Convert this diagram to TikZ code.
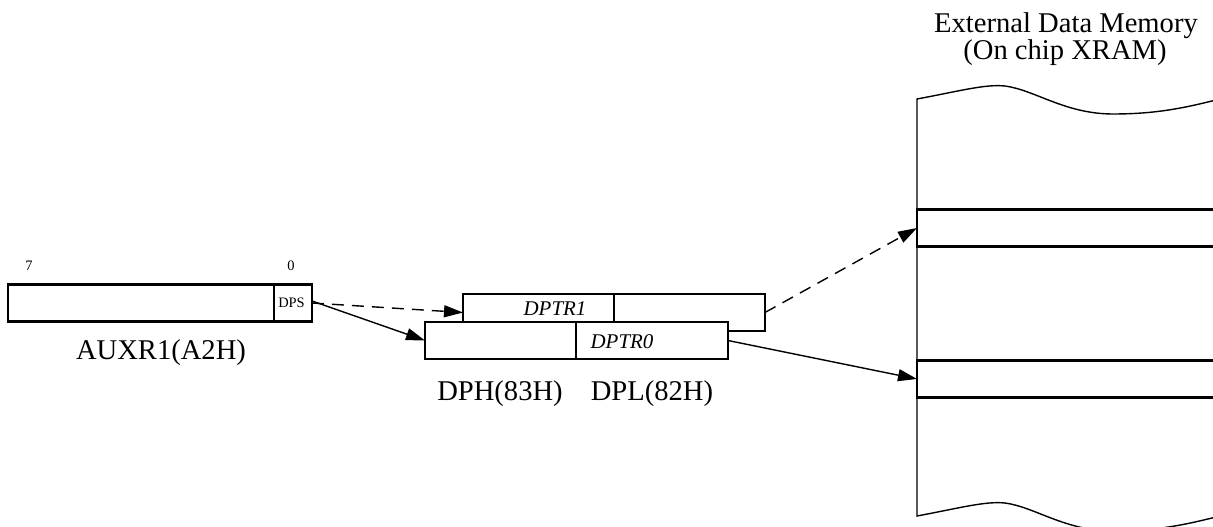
\documentclass[tikz,border=0pt]{standalone}
\usepackage{fontspec}
\setmainfont{Liberation Serif}
\usetikzlibrary{arrows.meta}
\tikzset{
  reg/.style={draw, line width=2.4bp, fill=white, inner sep=0pt, outer sep=0pt, minimum height=37bp},
  slot/.style={draw, line width=2.2bp, inner sep=0pt, outer sep=0pt, minimum height=37bp, minimum width=320bp},
  mem/.style={line width=1.4bp},
  link/.style={line width=1.4bp, -{Triangle[length=19bp,width=12bp]}},
  dlink/.style={link, dash pattern=on 12bp off 8bp},
  big/.style={font=\fontsize{28.7}{28.7}\selectfont, inner sep=0pt, anchor=base},
  mid/.style={font=\fontsize{21}{21}\selectfont\itshape, inner sep=0pt, anchor=base},
  small/.style={font=\fontsize{14.5}{14.5}\selectfont, inner sep=0pt, anchor=base},
}
\begin{document}
\begin{tikzpicture}[x=1bp,y=-1bp]
\useasboundingbox (0,0) rectangle (1213,527);
\clip (0,0) rectangle (1213,527);
\fill[white] (0,0) rectangle (1213,527);
% memory body
\draw[mem] (1235,95) .. controls (1190,107) and (1160,114) .. (1113,114)
  .. controls (1065,114) and (1035,90) .. (1005,86)
  .. controls (985,84) and (960,91) .. (917,99) -- (917,516)
  .. controls (960,508) and (985,501) .. (1005,503)
  .. controls (1035,507) and (1065,531) .. (1113,531)
  .. controls (1160,531) and (1190,524) .. (1235,512);
\node[slot, anchor=west] (slot1) at (917,228) {};
\node[slot, anchor=west] (slot2) at (917,379) {};
\node[big] (t1) at (1066,33) {External Data Memory};
\node[big] (t2) at (1065,60) {(On chip XRAM)};
% AUXR1
\node[reg, minimum width=266bp, anchor=west] (aux) at (8,303) {};
\node[reg, minimum width=38bp, anchor=west] (dps) at (274,303) {};
\node[small] (dpst) at (291.5,308) {DPS};
\node[small, font=\fontsize{14.5}{14.5}\selectfont] (b7) at (29,271) {7};
\node[small, font=\fontsize{14.5}{14.5}\selectfont] (b0) at (291,271) {0};
\node[big] (auxt) at (161,360) {AUXR1(A2H)};
% DPTR1
\node[reg, minimum width=151bp, anchor=west] (p1h) at (463,312.5) {};
\node[reg, minimum width=151bp, anchor=west] (p1l) at (614,312.5) {};
\node[mid] (p1t) at (555,316) {DPTR1};
% DPTR0
\node[reg, minimum width=151bp, anchor=west] (p0h) at (425,340.5) {};
\node[reg, minimum width=152bp, anchor=west] (p0l) at (576,340.5) {};
\node[mid] (p0t) at (622,349) {DPTR0};
\node[big] (dph) at (500,400) {DPH(83H)};
\node[big] (dpl) at (652,400) {DPL(82H)};
% connectors
\draw[dlink] (dps.east) -- (p1h.west);
\draw[link] ([yshift=2bp]dps.east) -- (p0h.west);
\draw[dlink] (p1l.east) -- (slot1.west);
\draw[link] (p0l.east) -- (slot2.west);
\end{tikzpicture}
\end{document}
